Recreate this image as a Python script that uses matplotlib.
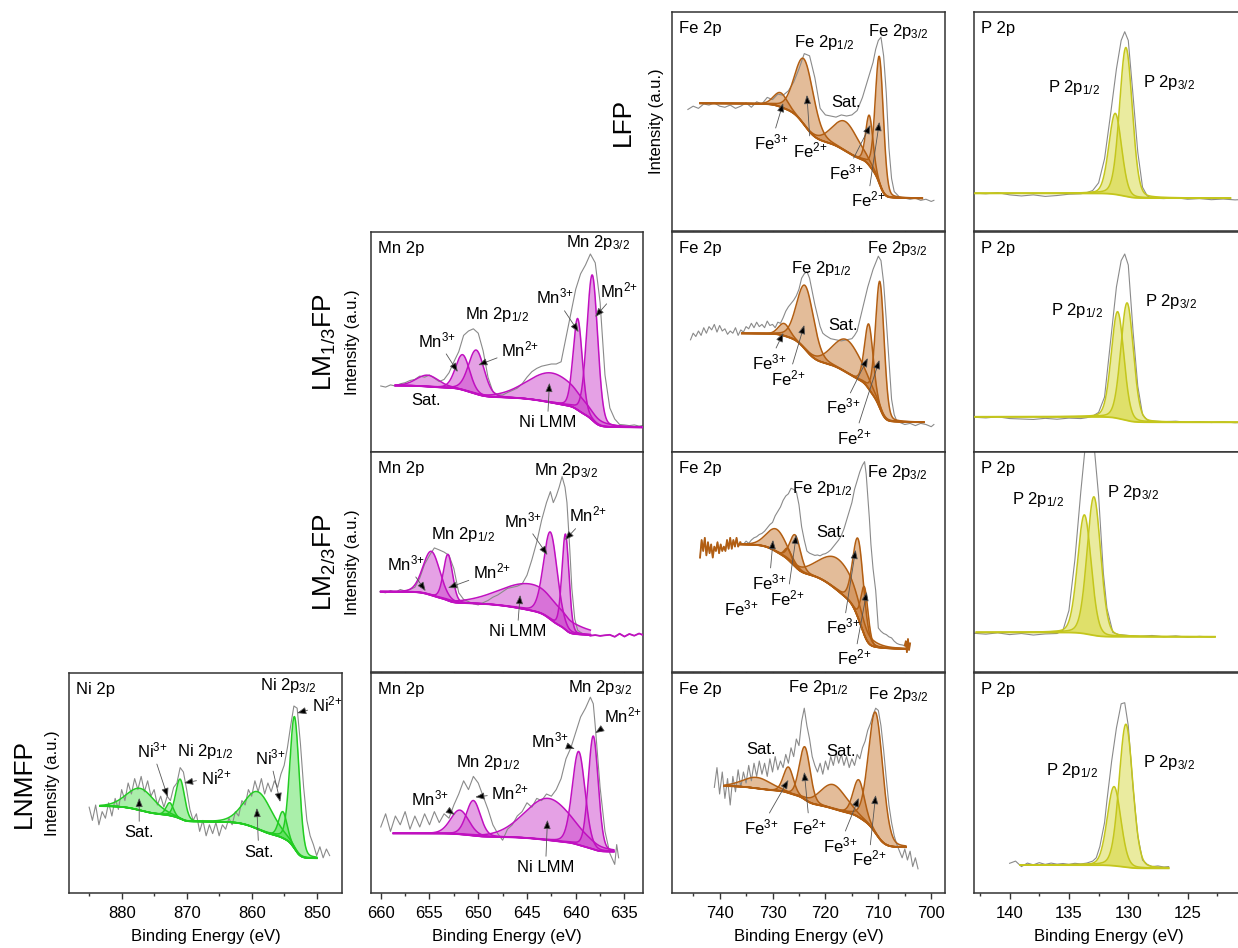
import numpy as np
import matplotlib
matplotlib.use("Agg")
import matplotlib.pyplot as plt
from matplotlib.ticker import MultipleLocator

plt.rcParams['font.family'] = ['Liberation Sans', 'DejaVu Sans']
plt.rcParams['mathtext.fontset'] = 'custom'
plt.rcParams['mathtext.rm'] = 'Liberation Sans'
plt.rcParams['mathtext.it'] = 'Liberation Sans:italic'
plt.rcParams['mathtext.bf'] = 'Liberation Sans:bold'

# ---------------------------------------------------------------------------
# Measured spectra: (binding energy / eV, intensity / a.u.)
# ---------------------------------------------------------------------------
lfp_fe_raw = [(746, 55.5), (745, 57), (744, 56), (743, 58), (742, 57.5), (741, 58.5), (740, 57),
              (739, 56.5), (738, 57.5), (737, 56), (736, 57), (735, 58.5), (734, 56.5), (733, 59),
              (732, 58), (731, 61), (730, 60), (729, 62.5), (728, 62), (727, 64), (726, 68),
              (725, 74), (724, 81), (723, 80), (722, 70), (721, 56), (720, 53), (719, 52.5),
              (718, 52), (717, 53), (716, 52.5), (715, 53), (714, 55), (713, 61), (712, 69),
              (711, 77), (710.5, 83), (710, 87), (709.5, 88.5), (709, 80), (708.5, 63), (708, 38),
              (707.5, 24), (707, 18), (706, 15.5), (705, 15), (704, 14.5), (703, 15), (702, 14),
              (701, 14.5), (700, 13.5), (699.5, 14)]

lfp_p_raw = [(143, 17.3), (142, 17.0), (141, 17.5), (140, 16.5), (139, 16.0), (138, 16.5),
             (137, 15.8), (136, 16.2), (135, 16.8), (134, 17.0), (133.5, 17.5), (133, 18.5),
             (132.5, 22), (132, 33), (131.5, 53), (131, 74), (130.6, 87), (130.3, 91), (130, 87),
             (129.6, 62), (129.2, 36), (128.8, 20), (128.4, 16), (128, 15), (127, 14.8),
             (126, 15.2), (125, 14.5), (124, 14.8), (123, 14.3), (122, 14.6), (121, 14.2),
             (120, 14.5)]

lm13_mn_raw = [(660, 30), (659.5, 29.5), (659, 30.5), (658.5, 30), (658, 31), (657.5, 31.5),
               (657, 32.5), (656.5, 33), (656, 34.5), (655.5, 34), (655, 35), (654.5, 33.5),
               (654, 32), (653.5, 33), (653, 36), (652.5, 41), (652, 45.6), (651.5, 53), (651, 55),
               (650.5, 56), (650, 54), (649.5, 46), (649, 34), (648.5, 27.4), (648, 26),
               (647.5, 25.9), (647, 27), (646.5, 28), (646, 29), (645.5, 31), (645, 34),
               (644.5, 36.5), (644, 38), (643.5, 39), (643, 39.5), (642.5, 40), (642, 40),
               (641.5, 41), (641, 52), (640.5, 63), (640, 74), (639.5, 81), (639, 85),
               (638.5, 90), (638, 86), (637.5, 68), (637, 35), (636.5, 20), (636, 15),
               (635.5, 12.5), (635, 12.3), (634.5, 12), (634, 12.3), (633.5, 11.8), (633.2, 12)]

lm13_fe_raw = [(745.5, 51), (745, 54), (744.5, 52.5), (744, 55), (743.5, 53), (743, 56.5),
               (742.5, 54), (742, 57), (741.5, 55.5), (741, 58), (740.5, 54.5), (740, 57.5),
               (739.5, 55), (739, 56), (738.5, 53.5), (738, 55), (737.5, 54), (737, 56.5),
               (736.5, 53), (736, 55.5), (735.5, 54.5), (735, 57), (734.5, 56), (734, 58.5),
               (733.5, 56.5), (733, 59), (732.5, 57), (732, 58), (731.5, 56.5), (731, 59.5),
               (730.5, 57.5), (730, 58), (729.5, 56.5), (729, 59), (728.5, 58.5), (728, 61),
               (727.5, 64), (727, 66), (726.5, 67.5), (726, 69), (725.5, 71), (725, 74),
               (724.5, 79), (724, 81), (723.5, 82), (723, 79), (722.5, 73), (722, 67),
               (721.5, 62), (721, 57), (720.5, 54), (720, 53), (719, 51.5), (718, 51),
               (717, 50.5), (716, 51), (715, 51.5), (714.5, 53), (714, 55), (713.5, 60),
               (713, 65), (712.5, 70), (712, 75), (711.5, 79), (711, 83), (710.5, 86), (710, 89),
               (709.5, 87), (709, 77), (708.5, 60), (708, 42), (707.5, 24), (707, 17),
               (706.5, 14), (706, 13.5), (705, 12.5), (704, 13), (703, 12), (702, 13),
               (701, 12.5), (700, 11.5), (699.5, 12.5)]

lm13_p_raw = [(143, 15.8), (142, 15.5), (141, 16.0), (140, 15.2), (139, 15.0), (138, 14.8),
              (137, 15.3), (136, 14.9), (135, 15.4), (134, 15.2), (133.5, 15.6), (133, 16.3),
              (132.5, 18), (132, 25), (131.5, 50), (131, 75), (130.6, 87), (130.3, 90), (130, 85),
              (129.6, 55), (129.2, 30), (128.8, 17), (128.4, 14.5), (128, 14), (127, 13.8),
              (126, 14), (125, 13.5), (124, 13.8), (123, 13.4), (122, 13.7), (121, 13.3),
              (120, 13.6)]

lm23_mn_raw = [(660.1, 36.5), (659.5, 36), (659, 37), (658.5, 36.2), (658, 37.5), (657.5, 36.8),
               (657, 37.5), (656.5, 38.5), (656, 42.7), (655.5, 49), (655, 53), (654.5, 56.4),
               (654, 55.5), (653.5, 54.5), (653, 53), (652.5, 47), (652, 36), (651.5, 33),
               (651, 32), (650.5, 31), (650, 30.5), (649.5, 31.5), (649, 32.5), (648.5, 34),
               (648, 35), (647.5, 36.5), (647, 38), (646.5, 38.5), (646, 39), (645.5, 40),
               (645, 44), (644.5, 51), (644, 59), (643.5, 69), (643, 77), (642.6, 82),
               (642.3, 77), (642, 80), (641.7, 84), (641.4, 88.8), (641.1, 84), (640.9, 77),
               (640.6, 55), (640.4, 38), (640.1, 24), (639.8, 19), (639.5, 18), (639, 16.8),
               (638.5, 16.5), (638, 16.8), (637.5, 16.4), (637, 16.7), (636.5, 16.9), (636, 16.0),
               (635.5, 17.4), (635, 16.1), (634.5, 17.3), (634, 16.5), (633.5, 17.5),
               (633.1, 16.8)]

lm23_fe_raw = [(743.7, 52), (743.4, 60), (743.1, 55), (742.8, 61), (742.5, 53), (742.2, 59),
               (741.9, 54), (741.6, 58), (741.3, 52), (741.0, 57), (740.7, 55), (740.4, 59),
               (740.1, 54), (739.8, 58), (739.5, 55), (739.2, 57), (738.9, 55), (738.6, 60),
               (738.3, 56), (738.0, 61), (737.7, 56), (737.4, 60), (737.1, 57), (736.8, 61),
               (736.5, 57), (736.1, 59), (735.5, 58), (735, 59.5), (734.5, 58.5), (734, 60),
               (733.5, 61), (733, 61.5), (732.5, 62.5), (732, 63), (731.5, 64), (731, 65.5),
               (730.5, 67), (730, 68), (729.5, 71), (729, 73), (728.5, 75), (728, 78),
               (727.5, 80), (727, 81), (726.5, 83.5), (726, 83), (725.5, 82), (725, 76),
               (724.5, 66), (724, 60), (723.5, 55), (723, 54), (722.5, 53.5), (722, 53),
               (721.5, 53.2), (721, 52.8), (720.5, 53.5), (720, 53.8), (719.5, 54.5),
               (719, 55.5), (718.5, 57), (718, 58.5), (717.5, 60), (717, 62), (716.5, 65),
               (716, 69), (715.5, 73), (715, 77), (714.5, 83), (714, 87), (713.5, 91), (713, 94),
               (712.6, 95.6), (712.3, 90), (712.0, 80), (711.7, 70), (711.4, 58), (711.0, 47),
               (710.5, 37), (710.0, 20), (709.5, 18.5), (709, 17.5), (708.5, 17), (708, 16),
               (707.5, 15.5), (707, 14), (706.5, 13), (706, 12.5), (705.5, 12.3), (705, 12),
               (704.8, 14), (704.6, 9), (704.4, 15), (704.2, 10), (704.0, 13)]

lm23_p_raw = [(143, 17.6), (142, 17.2), (141, 17.8), (140, 17.0), (139, 17.5), (138, 16.8),
              (137, 17.3), (136, 17.5), (135.5, 19), (135, 28), (134.5, 51), (134, 82),
              (133.6, 104), (133.3, 111), (132.9, 104), (132.5, 80), (132.1, 45), (131.8, 29),
              (131.3, 18), (130.8, 17), (130, 16.6), (129, 16.2), (128, 16.6), (127, 16.0),
              (126, 16.4), (125, 15.8), (124, 16.2), (123, 15.9), (122.7, 16.1)]

lnmfp_ni_raw = [(885.0, 39), (884.5, 33), (884.0, 40), (883.5, 31), (883.0, 37), (882.5, 34),
                (882.0, 41), (881.5, 35), (881.0, 43), (880.5, 38), (880.0, 47), (879.5, 42),
                (879.0, 50), (878.5, 45), (878.0, 52), (877.5, 47), (877.0, 53), (876.5, 46),
                (876.0, 51), (875.5, 44), (875.0, 47), (874.5, 40), (874.0, 44), (873.5, 39),
                (873.0, 44), (872.5, 42), (872.0, 48), (871.5, 50), (871.0, 57), (870.5, 55),
                (870.0, 47), (869.5, 38), (869.0, 33), (868.5, 36), (868.0, 28), (867.5, 33),
                (867.0, 26), (866.5, 31), (866.0, 27), (865.5, 32), (865.0, 26), (864.5, 31),
                (864.0, 29), (863.5, 34), (863.0, 31), (862.5, 37), (862.0, 35), (861.5, 42),
                (861.0, 40), (860.5, 47), (860.0, 44), (859.5, 51), (859.0, 46), (858.5, 52),
                (858.0, 45), (857.5, 50), (857.0, 46), (856.5, 51), (856.0, 48), (855.5, 54),
                (855.0, 58), (854.5, 66), (854.0, 76), (853.5, 85), (853.0, 84), (852.5, 68),
                (852.0, 48), (851.5, 33), (851.0, 26), (850.5, 22), (850.0, 17), (849.5, 21),
                (849.0, 16), (848.5, 20), (848.0, 17)]

lnmfp_mn_raw = [(660.0, 30), (659.5, 36), (659.0, 28), (658.5, 35), (658.0, 31), (657.5, 37),
                (657.0, 29), (656.5, 35), (656.0, 30), (655.5, 36), (655.0, 31), (654.5, 37),
                (654.0, 32), (653.5, 36), (653.0, 34), (652.5, 40), (652.0, 45), (651.5, 51),
                (651.0, 47), (650.5, 53), (650.0, 50), (649.5, 44), (649.0, 38), (648.5, 31),
                (648.0, 27), (647.5, 24), (647.0, 29), (646.5, 31), (646.0, 35), (645.5, 37),
                (645.0, 41), (644.5, 39), (644.0, 43), (643.5, 42), (643.0, 45), (642.5, 44),
                (642.0, 47), (641.5, 52), (641.0, 61), (640.5, 66), (640.0, 73), (639.5, 80),
                (639.0, 84), (638.5, 89), (638.2, 86), (638.0, 76), (637.5, 48), (637.0, 28),
                (636.5, 18), (636.0, 13), (635.8, 22), (635.6, 16)]

lnmfp_fe_raw = [(741.0, 48), (740.5, 57), (740.0, 45), (739.5, 55), (739.0, 43), (738.5, 52),
                (738.0, 40), (737.5, 53), (737.0, 46), (736.5, 56), (736.0, 48), (735.5, 55),
                (735.0, 50), (734.5, 58), (734.0, 51), (733.5, 59), (733.0, 53), (732.5, 60),
                (732.0, 54), (731.5, 59), (731.0, 53), (730.5, 61), (730.0, 55), (729.5, 62),
                (729.0, 56), (728.5, 60), (728.0, 57), (727.5, 63), (727.0, 59), (726.5, 66),
                (726.0, 62), (725.5, 70), (725.0, 67), (724.5, 78), (724.0, 84), (723.5, 76),
                (723.0, 70), (722.5, 62), (722.0, 58), (721.5, 55), (721.0, 59), (720.5, 54),
                (720.0, 60), (719.5, 56), (719.0, 62), (718.5, 58), (718.0, 64), (717.5, 59),
                (717.0, 63), (716.5, 58), (716.0, 62), (715.5, 57), (715.0, 61), (714.5, 58),
                (714.0, 63), (713.5, 61), (713.0, 66), (712.5, 69), (712.0, 74), (711.5, 77),
                (711.0, 81), (710.5, 84), (710.0, 83), (709.5, 76), (709.0, 65), (708.5, 52),
                (708.0, 40), (707.5, 32), (707.0, 26), (706.5, 22), (706.0, 19), (705.5, 16),
                (705.0, 20), (704.5, 15), (704.0, 19), (703.5, 12), (703.0, 16), (702.5, 11)]

lnmfp_p_raw = [(140.0, 13.5), (139.5, 14.5), (139.0, 12.0), (138.5, 13.6), (138.0, 12.8),
               (137.5, 13.8), (137.0, 13.0), (136.5, 13.6), (136.0, 13.1), (135.5, 13.4),
               (135.0, 13.0), (134.5, 13.5), (134.0, 13.2), (133.5, 13.6), (133.0, 14.5),
               (132.7, 16), (132.4, 21), (132.0, 32), (131.8, 42), (131.4, 60), (131.0, 75),
               (130.6, 86), (130.3, 86.5), (130.0, 76), (129.6, 48), (129.2, 26), (128.8, 15),
               (128.4, 13), (128.0, 12), (127.5, 12.3), (127.0, 11.8), (126.6, 12)]

# ---------------------------------------------------------------------------
# Fitted components: (centre / eV, height above background, FWHM / eV)
# ---------------------------------------------------------------------------
lfp_fe_peaks = [(728.5, 6.5, 3.0), (724.0, 30, 4.2), (716.2, 13.5, 5.7), (711.7, 23, 1.6),
                (709.8, 58, 1.8)]
lfp_p_peaks = [(131.1, 37, 1.26), (130.2, 68, 1.26)]
lm13_mn_peaks = [(655.2, 5.2, 2.7), (651.6, 16, 1.7), (650.2, 20, 1.9), (642.4, 13.5, 6.0),
                 (639.8, 41.6, 1.1), (638.3, 66, 1.3)]
lm13_fe_peaks = [(727.8, 5.6, 2.5), (723.8, 29, 3.8), (715.9, 15, 6.3), (711.8, 29.5, 1.9),
                 (709.7, 57.6, 1.9)]
lm13_p_peaks = [(130.9, 48.5, 1.25), (130.1, 53.5, 1.25)]
lm23_mn_peaks = [(654.8, 20, 2.05), (653.1, 21, 1.1), (644.5, 12, 7.5), (642.6, 39.7, 1.65),
                 (641.05, 43.5, 0.85)]
lm23_fe_peaks = [(729.2, 10.3, 4.4), (727.1, 5, 1.5), (725.7, 14.4, 2.4), (717.5, 14.5, 8.2),
                 (713.8, 36, 2.4), (712.6, 22, 1.6)]
lm23_p_peaks = [(133.7, 54, 1.35), (132.9, 63, 1.35)]
lnmfp_ni_peaks = [(877.1, 10, 5.0), (872.6, 5.8, 1.3), (871.0, 18, 1.6), (859.0, 17, 5.0),
                  (855.2, 12, 1.5), (853.4, 60, 1.7)]
lnmfp_mn_peaks = [(651.9, 11, 2.2), (650.5, 16, 1.7), (642.8, 19, 5.8), (639.7, 42.5, 1.55),
                  (638.2, 51.5, 1.2)]
lnmfp_fe_peaks = [(732.9, 5, 6.3), (727.0, 11.8, 2.2), (723.9, 24, 2.4), (718.5, 11, 5.7),
                  (713.7, 17, 2.5), (710.5, 55, 3.2)]
lnmfp_p_peaks = [(131.2, 36, 1.35), (130.2, 65, 1.35)]

# Fit windows (high BE, low BE) and Shirley background end levels (high BE side, low BE side)
lfp_fe_fit = ((743.7, 701.7), (58.3, 14.9))
lfp_p_fit = ((142.9, 121.4), (17.2, 15.0))
lm13_mn_fit = ((658.5, 633.2), (30.2, 11.2))
lm13_fe_fit = ((735.8, 701.4), (53.9, 13.5))
lm13_p_fit = ((142.9, 120.5), (16.0, 13.5))
lm23_mn_fit = ((660.0, 638.5), (36.5, 16.8))
lm23_fe_fit = ((736.1, 704.8), (58.0, 10.5))
lm23_p_fit = ((142.8, 122.7), (18.0, 16.0))
lnmfp_ni_fit = ((883.3, 850.0), (39.5, 15.8))
lnmfp_mn_fit = ((658.7, 636.1), (27.1, 18.8))
lnmfp_fe_fit = ((739.1, 704.8), (48.6, 20.8))
lnmfp_p_fit = ((139.1, 126.6), (12.7, 11.2))

# ---------------------------------------------------------------------------
# Peak annotations: (text, text position, arrow tip or None) in data coordinates
# ---------------------------------------------------------------------------
FE3, FE2 = "Fe$^{3{+}}$", "Fe$^{2{+}}$"
MN3, MN2 = "Mn$^{3{+}}$", "Mn$^{2{+}}$"
NI3, NI2 = "Ni$^{3{+}}$", "Ni$^{2{+}}$"

lfp_fe_notes = [("Fe 2p$_{1/2}$", (720.2, 86), None), ("Fe 2p$_{3/2}$", (706.3, 91), None),
                ("Sat.", (716.2, 58.5), None),
                (FE3, (730.2, 40.6), (728.0, 58.4)), (FE2, (722.8, 37), (723.5, 62.1)),
                (FE3, (716.0, 26.9), (711.5, 48.4)), (FE2, (712.0, 14.2), (709.8, 49.8))]
lfp_p_notes = [("P 2p$_{1/2}$", (134.6, 65.3), None), ("P 2p$_{3/2}$", (126.6, 68), None)]
lm13_mn_notes = [("Mn 2p$_{3/2}$", (637.7, 95), None), ("Mn 2p$_{1/2}$", (648.1, 62.3), None),
                 (MN3, (654.2, 50.9), (652.1, 36.4)), (MN2, (645.7, 46.8), (650.0, 39.5)),
                 (MN3, (642.1, 70.5), (639.7, 54.5)), (MN2, (635.6, 73.6), (638.0, 61.4)),
                 ("Sat.", (655.4, 23.6), None), ("Ni LMM", (642.9, 13.2), (642.7, 31.4))]
lm13_fe_notes = [("Fe 2p$_{1/2}$", (720.8, 83.6), None), ("Fe 2p$_{3/2}$", (706.5, 92.7), None),
                 ("Sat.", (716.6, 57.7), None),
                 (FE3, (730.6, 40.9), (727.96, 54.1)), (FE2, (727.0, 33.6), (724.0, 57.7)),
                 (FE3, (716.6, 20.5), (712.0, 42.7)), (FE2, (714.5, 6.8), (709.8, 41.8))]
lm13_p_notes = [("P 2p$_{1/2}$", (134.3, 64.5), None), ("P 2p$_{3/2}$", (126.4, 68.2), None)]
lm23_mn_notes = [("Mn 2p$_{3/2}$", (641.0, 91.8), None), ("Mn 2p$_{1/2}$", (651.6, 62.3), None),
                 (MN3, (657.4, 49.5), (655.4, 36.8)), (MN2, (648.6, 45.5), (653.1, 38.2)),
                 (MN3, (645.4, 69.1), (642.9, 53.2)), (MN2, (638.7, 71.4), (641.1, 60)),
                 ("Ni LMM", (646.0, 18.2), (645.7, 35))]
lm23_fe_notes = [("Fe 2p$_{1/2}$", (720.6, 83.6), None), ("Fe 2p$_{3/2}$", (706.5, 90.5), None),
                 ("Sat.", (719.0, 63.2), None),
                 (FE3, (730.6, 40.9), (729.9, 60)), (FE3, (735.9, 29.1), None),
                 (FE2, (727.2, 33.6), (725.5, 62.3)),
                 (FE3, (716.6, 20.5), (714.3, 55.5)), (FE2, (714.5, 6.4), (712.2, 36.4))]
lm23_p_notes = [("P 2p$_{1/2}$", (137.6, 78.2), None), ("P 2p$_{3/2}$", (129.6, 81.4), None)]
lnmfp_ni_notes = [("Ni 2p$_{3/2}$", (854.4, 94.5), None), (NI2, (848.4, 85.5), (853.0, 81.8)),
                  (NI3, (875.3, 65), (872.9, 43.6)), ("Ni 2p$_{1/2}$", (867.2, 64.1), None),
                  (NI2, (865.5, 52.7), (870.4, 50)), (NI3, (857.2, 61.8), (855.6, 41.4)),
                  ("Sat.", (877.3, 27.3), (877.3, 43.2)), ("Sat.", (858.9, 18.6), (859.2, 38.6))]
lnmfp_mn_notes = [("Mn 2p$_{3/2}$", (637.5, 93.2), None), ("Mn 2p$_{1/2}$", (649.0, 59.1), None),
                  (MN3, (654.9, 43.2), (652.4, 35.5)), (MN2, (646.7, 45.5), (650.3, 43.6)),
                  (MN3, (642.6, 69.5), (640.1, 65.5)), (MN2, (635.2, 80.9), (638.0, 72.7)),
                  ("Ni LMM", (643.1, 11.4), (642.9, 33.2))]
lnmfp_fe_notes = [("Fe 2p$_{1/2}$", (721.3, 93.6), None), ("Fe 2p$_{3/2}$", (706.2, 90), None),
                  ("Sat.", (732.1, 65), None), ("Sat.", (717.0, 64.1), None),
                  (FE3, (732.1, 30), (727.0, 51.4)), (FE2, (723.0, 30), (724.0, 55)),
                  (FE3, (717.3, 21.8), (713.7, 43.2)), (FE2, (711.8, 15.5), (710.5, 44.5))]
lnmfp_p_notes = [("P 2p$_{1/2}$", (134.7, 55.9), None), ("P 2p$_{3/2}$", (126.6, 59.5), None)]

# ---------------------------------------------------------------------------
# Layout and styling
# ---------------------------------------------------------------------------
W, H = 1238, 948
COLS = {'Ni': (69, 273), 'Mn': (371, 272), 'Fe': (672, 273), 'P': (974, 270)}
ROWS = [(12, 219), (232, 220), (452, 220), (673, 220)]
XLIM = {'Ni': (888.1, 846.1), 'Mn': (661.0, 633.1), 'Fe': (749.0, 697.4), 'P': (143.0, 120.25)}
MAJOR = {'Ni': 10, 'Mn': 5, 'Fe': 10, 'P': 5}
TITLE = {'Ni': 'Ni 2p', 'Mn': 'Mn 2p', 'Fe': 'Fe 2p', 'P': 'P 2p'}
STYLE = {
    'Fe': dict(edge='#B25E12', fill='#C87A35', alpha=0.5),
    'Mn': dict(edge='#C010C0', fill='#CC44CC', alpha=0.5),
    'Ni': dict(edge='#22CC22', fill='#44DD44', alpha=0.45),
    'P': dict(edge='#C4C61C', fill='#D2D42A', alpha=0.45),
}
RAW_COLOR = '#8a8a8a'

panels = [
    (0, 'Fe', lfp_fe_raw, lfp_fe_peaks, lfp_fe_fit, lfp_fe_notes, False),
    (0, 'P', lfp_p_raw, lfp_p_peaks, lfp_p_fit, lfp_p_notes, False),
    (1, 'Mn', lm13_mn_raw, lm13_mn_peaks, lm13_mn_fit, lm13_mn_notes, False),
    (1, 'Fe', lm13_fe_raw, lm13_fe_peaks, lm13_fe_fit, lm13_fe_notes, False),
    (1, 'P', lm13_p_raw, lm13_p_peaks, lm13_p_fit, lm13_p_notes, False),
    (2, 'Mn', lm23_mn_raw, lm23_mn_peaks, lm23_mn_fit, lm23_mn_notes, True),
    (2, 'Fe', lm23_fe_raw, lm23_fe_peaks, lm23_fe_fit, lm23_fe_notes, True),
    (2, 'P', lm23_p_raw, lm23_p_peaks, lm23_p_fit, lm23_p_notes, False),
    (3, 'Ni', lnmfp_ni_raw, lnmfp_ni_peaks, lnmfp_ni_fit, lnmfp_ni_notes, False),
    (3, 'Mn', lnmfp_mn_raw, lnmfp_mn_peaks, lnmfp_mn_fit, lnmfp_mn_notes, False),
    (3, 'Fe', lnmfp_fe_raw, lnmfp_fe_peaks, lnmfp_fe_fit, lnmfp_fe_notes, False),
    (3, 'P', lnmfp_p_raw, lnmfp_p_peaks, lnmfp_p_fit, lnmfp_p_notes, False),
]

row_names = ['LFP', 'LM$_{1/3}$FP', 'LM$_{2/3}$FP', 'LNMFP']
row_name_x = [623, 325, 325, 24]
ylabel_x = [657, 353, 353, 53]


def pseudo_voigt(E, centre, height, fwhm, eta=0.15):
    sigma = fwhm / 2.3548
    gauss = np.exp(-(E - centre) ** 2 / (2 * sigma ** 2))
    lorentz = 1.0 / (1.0 + ((E - centre) / (fwhm / 2)) ** 2)
    return height * ((1 - eta) * gauss + eta * lorentz)


def shirley(total, high_level, low_level):
    # E runs from high to low binding energy; area accumulated from the low-BE end
    area_below = np.cumsum(total[::-1])[::-1]
    return low_level + (high_level - low_level) * area_below / area_below[0]


fig = plt.figure(figsize=(W / 100, H / 100), dpi=100)

for row, elem, raw, peaks, fit, notes, colour_tails in panels:
    x0, w = COLS[elem]
    y0, h = ROWS[row]
    ax = fig.add_axes([x0 / W, 1 - (y0 + h) / H, w / W, h / H])
    st = STYLE[elem]

    (e_hi, e_lo), (b_hi, b_lo) = fit
    E = np.linspace(e_hi, e_lo, 800)
    comps = [pseudo_voigt(E, c, hgt, fw) for c, hgt, fw in peaks]
    bg = shirley(np.sum(comps, axis=0), b_hi, b_lo)

    for comp in comps:
        ax.fill_between(E, bg, bg + comp, color=st['fill'], alpha=st['alpha'], lw=0, zorder=2)

    raw_e = np.array([p[0] for p in raw])
    raw_i = np.array([p[1] for p in raw])
    ax.plot(raw_e, raw_i, color=RAW_COLOR, lw=0.8, zorder=2.5)
    if colour_tails:
        left = raw_e >= e_hi - 0.2
        right = raw_e <= e_lo + 0.2
        for m in (left, right):
            if m.sum() > 1:
                ax.plot(raw_e[m], raw_i[m], color=st['edge'], lw=1.3, zorder=3)

    for comp in comps:
        ax.plot(E, bg + comp, color=st['edge'], lw=1.1, zorder=3)
    ax.plot(E, bg, color=st['edge'], lw=1.3, zorder=3)

    for text, txy, tip in notes:
        if tip is None:
            ax.text(txy[0], txy[1], text, ha='center', va='center', fontsize=12, zorder=5)
        else:
            ax.annotate(text, xy=tip, xytext=txy, ha='center', va='center', fontsize=12,
                        zorder=5,
                        arrowprops=dict(arrowstyle='-|>,head_length=0.45,head_width=0.18',
                                        facecolor='black', edgecolor='#555555', lw=0.6,
                                        shrinkA=1, shrinkB=0))

    ax.text(0.025, 0.925, TITLE[elem], transform=ax.transAxes, ha='left', va='center',
            fontsize=12)

    ax.set_xlim(*XLIM[elem])
    ax.set_ylim(0, 100)
    ax.set_yticks([])
    ax.xaxis.set_major_locator(MultipleLocator(MAJOR[elem]))
    ax.xaxis.set_minor_locator(MultipleLocator(MAJOR[elem] / 2))
    ax.tick_params(axis='x', which='major', direction='out', length=4, width=1,
                   color='#333333', labelsize=12, pad=5, labelbottom=(row == 3))
    ax.tick_params(axis='x', which='minor', direction='out', length=2.5, width=1,
                   color='#333333')
    for sp in ax.spines.values():
        sp.set_color('#333333')
        sp.set_linewidth(1.1)
    if row == 3:
        ax.set_xlabel('Binding Energy (eV)', fontsize=12, labelpad=6)

for i, (y0, h) in enumerate(ROWS):
    yc = 1 - (y0 + h / 2) / H
    fig.text(row_name_x[i] / W, yc, row_names[i], rotation=90, ha='center', va='center',
             fontsize=19)
    fig.text(ylabel_x[i] / W, yc, 'Intensity (a.u.)', rotation=90, ha='center', va='center',
             fontsize=12)

fig.savefig('out.png', dpi=100)
